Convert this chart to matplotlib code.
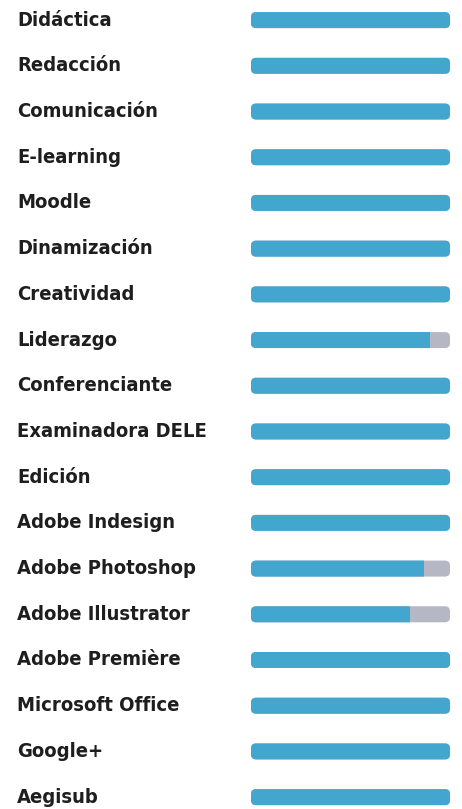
import matplotlib
matplotlib.use("Agg")
import matplotlib.pyplot as plt
from matplotlib.patches import FancyBboxPatch, Rectangle

skills = [
    "Didáctica", "Redacción", "Comunicación", "E-learning", "Moodle",
    "Dinamización", "Creatividad", "Liderazgo", "Conferenciante",
    "Examinadora DELE", "Edición", "Adobe Indesign", "Adobe Photoshop",
    "Adobe Illustrator", "Adobe Première", "Microsoft Office", "Google+",
    "Aegisub",
]
levels = [100, 100, 100, 100, 100, 100, 100, 90, 100, 100, 100, 100, 87,
          80, 100, 100, 100, 100]

BLUE = "#42a6cf"
GREY = "#b5b8c4"
W, H = 462, 809

fig = plt.figure(figsize=(W / 100, H / 100), dpi=100)
fig.patch.set_facecolor("white")

x0, x1 = 251 / W, 450 / W
ax = fig.add_axes([x0, 0, x1 - x0, 1])
ax.set_xlim(0, 100)
ax.set_ylim(17.26, -0.44)
ax.axis("off")

px_x = (x1 - x0) * W / 100
px_y = H / (17.26 + 0.44)
aspect = px_x / px_y
bar_h = 16 / px_y
rad = 5 / px_x

for i, (name, lv) in enumerate(zip(skills, levels)):
    y = i - bar_h / 2
    bg = FancyBboxPatch((0, y), 100, bar_h,
                        boxstyle=f"round,pad=0,rounding_size={rad}",
                        mutation_aspect=aspect, fc=GREY, ec="none")
    ax.add_patch(bg)
    fg = FancyBboxPatch((0, y), 100, bar_h,
                        boxstyle=f"round,pad=0,rounding_size={rad}",
                        mutation_aspect=aspect, fc=BLUE, ec="none")
    ax.add_patch(fg)
    clip = Rectangle((0, y - 1), lv, bar_h + 2, transform=ax.transData)
    fg.set_clip_path(clip)
    ax.text(-234 / px_x, i, name, ha="left", va="center", fontsize=14.5,
            fontweight="bold", fontstretch="condensed", color="#1e1e1e",
            family="DejaVu Sans", clip_on=False)

fig.savefig("out.png", dpi=100, facecolor="white")
